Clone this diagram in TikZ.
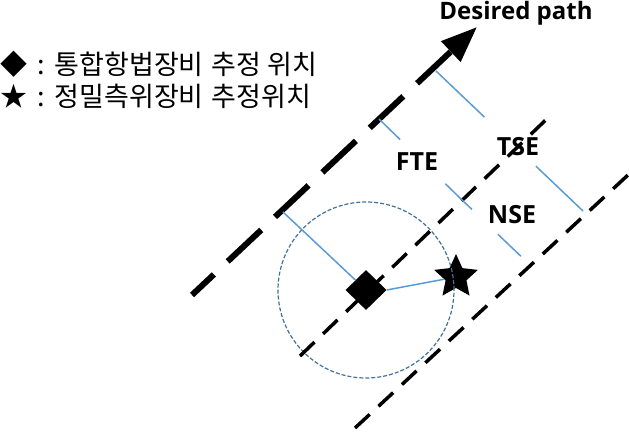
\documentclass[tikz,border=0pt]{standalone}
\usepackage{fontspec}
\setmainfont{Open Sans}
\newfontfamily\krfont{Noto Sans CJK KR}
\usetikzlibrary{calc,arrows.meta,shapes.geometric}
\definecolor{errblue}{HTML}{5B9BD5}
\definecolor{circblue}{HTML}{41719C}

\begin{document}
\begin{tikzpicture}[x=1pt,y=-1pt,
  errline/.style={errblue,line width=1.5pt},
  pathline/.style={line width=6pt,dash pattern=on 46pt off 19pt,dash phase=16pt},
  trackline/.style={line width=3.5pt,dash pattern=on 20pt off 12pt},
  lbl/.style={font=\fontsize{25}{25}\selectfont\bfseries,inner sep=0pt},
  legend/.style={anchor=west,inner sep=0pt,font=\krfont\fontsize{27}{27}\selectfont}]
 \useasboundingbox (0,0) rectangle (629,431);

 \coordinate (p0) at (192,295); \coordinate (p1) at (477,27);
 \coordinate (m0) at (300,356); \coordinate (m1) at (553,113);
 \coordinate (r0) at (355,428); \coordinate (r1) at (628,175);
 \coordinate (f0) at (379,119); \coordinate (f1) at (460,198);
 \coordinate (n1) at (530,265);
 \coordinate (t0) at (436,71);  \coordinate (t1) at (583,211);
 \coordinate (d0) at (283,212);

 \node[diamond,fill=black,minimum width=41pt,minimum height=40pt,inner sep=0pt] (dia) at (366,290) {};
 \node[star,star points=5,star point ratio=2.1,fill=black,minimum size=46pt,inner sep=0pt] (star) at (456,277) {};

 \draw[circblue,line width=1.2pt,dash pattern=on 4pt off 2pt] (dia.center) circle (88pt);
 \draw[pathline,-{Triangle[length=36pt,width=27pt]}] (p0) -- (p1);
 \draw[trackline] (m0) -- (m1);
 \draw[trackline] (r0) -- (r1);

 \draw[errline] (f0) -- ($(f0)!.26!(f1)$) ($(f0)!.82!(f1)$) -- (f1);
 \draw[errline] (f1) -- ($(f1)!.17!(n1)$) ($(f1)!.54!(n1)$) -- ($(f1)!.87!(n1)$);
 \draw[errline] (t0) -- ($(t0)!.33!(t1)$) ($(t0)!.68!(t1)$) -- (t1);
 \draw[errline] (d0) -- (dia);
 \draw[errline] (dia.east) -- (star);

 \node[lbl] (fte) at (417,162) {FTE};
 \node[lbl] (tse) at (518,147) {TSE};
 \node[lbl] (nse) at (512,215) {NSE};
 \node[lbl,font=\fontsize{24}{24}\selectfont\bfseries] (dp) at (516,13) {Desired path};

 \node[legend] (leg1) at (0,64) {◆\hspace{10pt}:\hspace{10pt}통합항법장비\hspace{8pt}추정 위치};
 \node[legend] (leg2) at (0,96) {★\hspace{10pt}:\hspace{10pt}정밀측위장비\hspace{8pt}추정위치};
\end{tikzpicture}
\end{document}
